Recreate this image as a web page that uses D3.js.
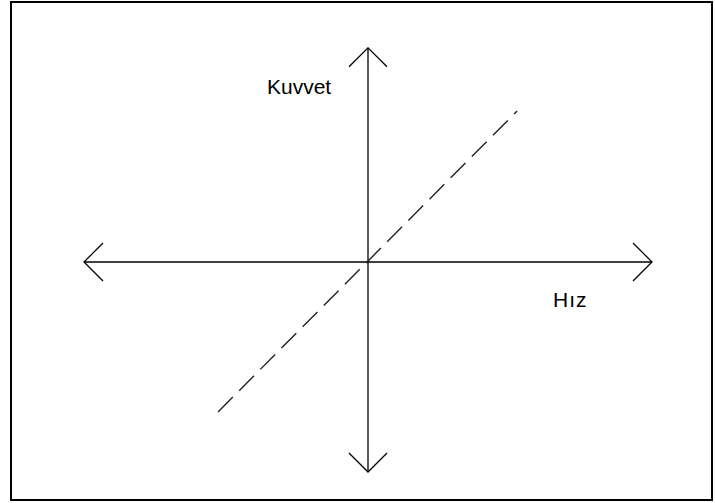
<!DOCTYPE html>
<html>
<head>
<meta charset="utf-8">
<script src="https://cdn.jsdelivr.net/npm/d3@7"></script>
<style>
    body { margin: 0; background: #fff; }
    text { font-family: 'Liberation Sans', Arial, sans-serif; }
</style>
</head>
<body>
<div id="chart"></div>
<script>
// axis extents (arbitrary units, origin at centre)
const speedExtent = [-1, 1];
const forceExtent = [-1, 1.02];

// dashed force-speed relation, end points
const speedValues = [-0.528, 0.525];
const forceValues = [-0.714, 0.719];

// axis labels
const axisLabels = ['Hız', 'Kuvvet'];

const W = 715, H = 503;
const margin = { top: 52, right: 63, bottom: 31, left: 84 };

const svg = d3.select('#chart')
    .append('svg')
    .attr('width', W)
    .attr('height', H);

// frame
svg.append('rect')
    .attr('x', 11)
    .attr('y', 2)
    .attr('width', 701)
    .attr('height', 498)
    .attr('fill', 'none')
    .attr('stroke', '#000')
    .attr('stroke-width', 2);

// scales
const x = d3.scaleLinear().domain([-1, 1]).range([margin.left, W - margin.right]);
const y = d3.scaleLinear().domain([-1, 1]).range([H - margin.bottom, margin.top]);

// open arrow head
svg.append('defs')
    .append('marker')
    .attr('id', 'arrow')
    .attr('markerUnits', 'userSpaceOnUse')
    .attr('viewBox', '-22 -22 24 44')
    .attr('markerWidth', 24)
    .attr('markerHeight', 44)
    .attr('refX', 0)
    .attr('refY', 0)
    .attr('orient', 'auto-start-reverse')
    .append('path')
    .attr('d', 'M-19,-19L0,0L-19,19')
    .attr('fill', 'none')
    .attr('stroke', '#000')
    .attr('stroke-width', 1.3);

// horizontal axis (speed)
svg.append('line')
    .attr('x1', x(speedExtent[0]))
    .attr('x2', x(speedExtent[1]))
    .attr('y1', y(0))
    .attr('y2', y(0))
    .attr('stroke', '#000')
    .attr('stroke-width', 1.3)
    .attr('marker-start', 'url(#arrow)')
    .attr('marker-end', 'url(#arrow)');

// vertical axis (force)
svg.append('line')
    .attr('x1', x(0))
    .attr('x2', x(0))
    .attr('y1', y(forceExtent[0]))
    .attr('y2', y(forceExtent[1]))
    .attr('stroke', '#000')
    .attr('stroke-width', 1.3)
    .attr('marker-start', 'url(#arrow)')
    .attr('marker-end', 'url(#arrow)');

// dashed relation line
const relation = speedValues.map((s, i) => ({ speed: s, force: forceValues[i] }));

svg.append('path')
    .datum(relation)
    .attr('d', d3.line().x((d) => x(d.speed)).y((d) => y(d.force)))
    .attr('fill', 'none')
    .attr('stroke', '#222')
    .attr('stroke-width', 1.4)
    .attr('stroke-dasharray', '21 9');

// labels
svg.append('text')
    .attr('x', 553)
    .attr('y', 307)
    .attr('font-size', 21)
    .attr('letter-spacing', 1)
    .attr('fill', '#000')
    .text(axisLabels[0]);

svg.append('text')
    .attr('x', 267)
    .attr('y', 94)
    .attr('font-size', 21)
    .attr('fill', '#000')
    .text(axisLabels[1]);
</script>
</body>
</html>
